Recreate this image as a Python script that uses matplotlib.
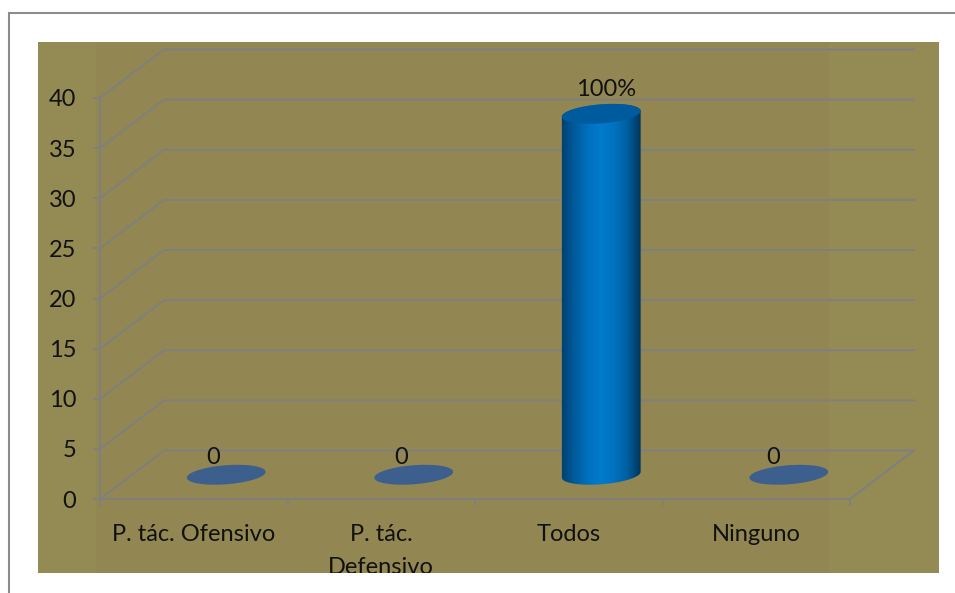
import numpy as np
import matplotlib
matplotlib.use("Agg")
import matplotlib.pyplot as plt
from matplotlib.colors import LinearSegmentedColormap
from matplotlib.patches import Rectangle, Polygon

categories = ["P. tác. Ofensivo", "P. tác.\nDefensivo", "Todos", "Ninguno"]
values = [0, 0, 36, 0]
point_labels = ["0", "0", "100%", "0"]
y_ticks = [0, 5, 10, 15, 20, 25, 30, 35, 40]

W, H = 955, 593
GRID = "#7f7f7f"
# 3D look: depth of the floor in pixels
DEPTH_X, DEPTH_Y = 64, 48.5
LEFT, RIGHT, BOTTOM, TOP = 100, 850, 499, 98

plt.rcParams["font.family"] = ["Lato", "DejaVu Sans"]

fig = plt.figure(figsize=(W / 100, H / 100), dpi=100, facecolor="white")


def fig_rect(x0, y0, x1, y1, **kw):
    r = Rectangle((x0 / W, 1 - y1 / H), (x1 - x0) / W, (y1 - y0) / H,
                  transform=fig.transFigure, zorder=-1, **kw)
    fig.add_artist(r)
    return r


fig_rect(9, 13, 975, 610, facecolor="white", edgecolor="#8c8c8c", linewidth=1.5)
olive = fig_rect(38, 42, 939, 573, facecolor="#948a54", edgecolor="none")
fig_rect(96, 42, 829, 573, facecolor="#928752", edgecolor="none")

ax = fig.add_axes([LEFT / W, 1 - BOTTOM / H, (RIGHT - LEFT) / W, (BOTTOM - TOP) / H])
ax.patch.set_visible(False)
xlim = (0, len(categories))
ylim = (0, 40)
px_x = (RIGHT - LEFT) / xlim[1]
px_y = (BOTTOM - TOP) / ylim[1]
dx = DEPTH_X / px_x
dy = DEPTH_Y / px_y

# gridlines: side wall and back wall
for v in y_ticks:
    ax.plot([0, dx, xlim[1] + dx], [v, v + dy, v + dy], color=GRID, lw=1.4,
            clip_on=False, zorder=1)
ax.plot([xlim[1], xlim[1] + dx], [0, dy], color=GRID, lw=1.4, clip_on=False, zorder=1)


def ellipse(cx, cy, a=39.5, b=9.5, phi=np.radians(4.5), t=None):
    # tilted ellipse, sizes in pixels, centre in data units
    if t is None:
        t = np.linspace(0, 2 * np.pi, 90)
    ex = a * np.cos(t) * np.cos(phi) - b * np.sin(t) * np.sin(phi)
    ey = a * np.cos(t) * np.sin(phi) + b * np.sin(t) * np.cos(phi)
    return np.column_stack([cx + ex / px_x, cy + ey / px_y])


cyl_cmap = LinearSegmentedColormap.from_list(
    "cyl", ["#00406f", "#005a9c", "#0070bd", "#007ccb", "#0072c0", "#005f9f", "#00345c"])
label_offsets = [(-13, 17), (-13, 17), (5, 24), (-16, 17)]

for i, v in enumerate(values):
    cx = i + 0.5 + (dx + 1 / px_x) / 2
    cy = dy / 2
    top = cy + v
    if v > 0:
        lower = ellipse(cx, cy, t=np.linspace(np.pi, 2 * np.pi, 50))
        upper = ellipse(cx, top, t=np.linspace(0, np.pi, 50))
        body = Polygon(np.vstack([lower, upper]), closed=True, transform=ax.transData,
                       facecolor="none", edgecolor="none")
        ax.add_patch(body)
        im = ax.imshow(np.linspace(0, 1, 256).reshape(1, -1), cmap=cyl_cmap, aspect="auto",
                       extent=(cx - 40 / px_x, cx + 40 / px_x, cy - 2, top + 2), zorder=3)
        im.set_clip_path(body)
        ax.add_patch(Polygon(ellipse(cx, top), closed=True, facecolor="#005a9e",
                             edgecolor="none", zorder=4, clip_on=False))
    else:
        ax.add_patch(Polygon(ellipse(cx, top), closed=True, facecolor="#3c5f8e",
                             edgecolor="none", zorder=3, clip_on=False))
    off = label_offsets[i]
    ax.annotate(point_labels[i], (cx, top), xytext=(off[0] * 0.72, off[1] * 0.72),
                textcoords="offset points", ha="center", va="center",
                fontsize=17, color="#111111", zorder=5)

ax.set_xlim(xlim)
ax.set_ylim(ylim)

for side in ["top", "right"]:
    ax.spines[side].set_visible(False)
for side in ["left", "bottom"]:
    ax.spines[side].set_color(GRID)
    ax.spines[side].set_linewidth(1.4)

ax.set_yticks(y_ticks)
ax.set_xticks(range(len(categories) + 1))
ax.set_xticklabels([])
ax.set_xticks(np.arange(len(categories)) + 0.5, minor=True)
ax.set_xticklabels(categories, minor=True, linespacing=1.68, va="top")
ax.tick_params(axis="y", length=5, width=1.2, color=GRID, labelsize=17, pad=12,
               labelcolor="#111111")
ax.tick_params(axis="x", which="major", length=5, width=1.2, color=GRID)
ax.tick_params(axis="x", which="minor", length=0, labelsize=17, pad=18,
               labelcolor="#111111")

# the long label is cut by the bottom of the coloured area
for lab in ax.get_xticklabels(minor=True):
    lab.set_clip_path(olive)
    lab.set_clip_on(True)

fig.savefig("out.png", dpi=100)
